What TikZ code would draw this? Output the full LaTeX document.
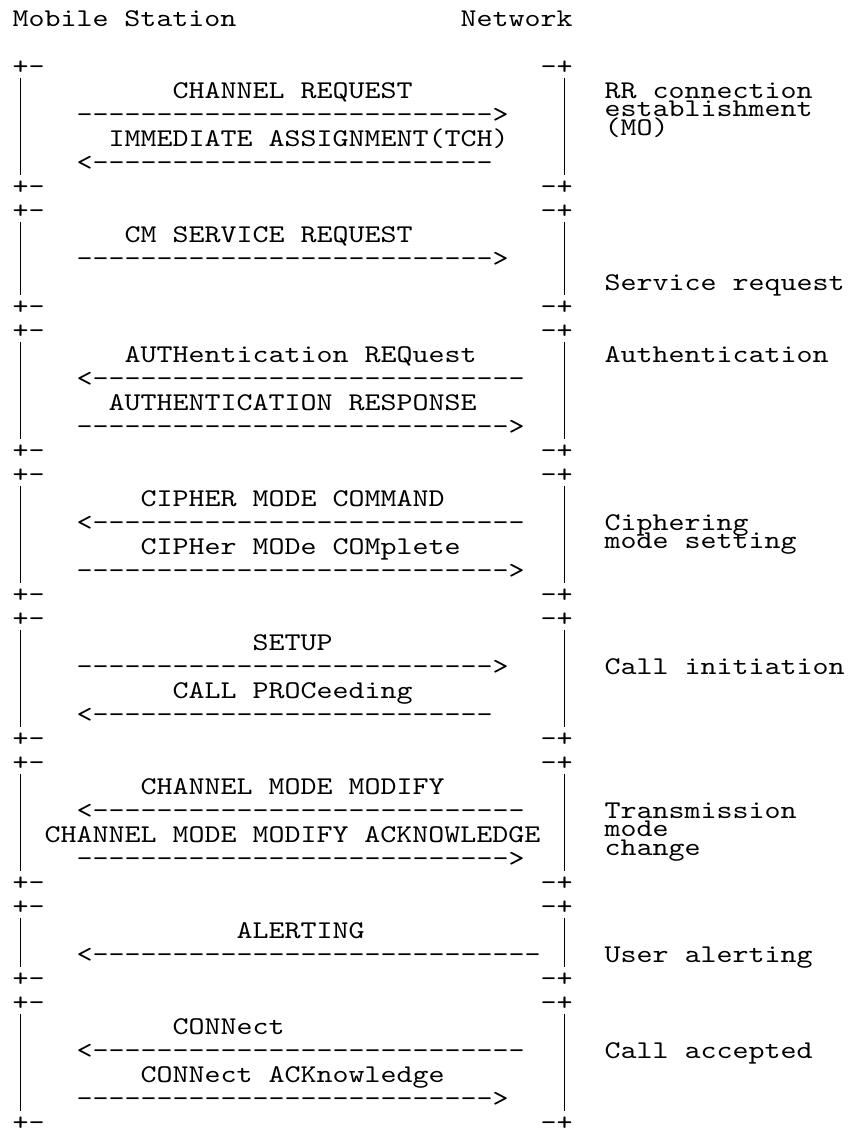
\documentclass[tikz,border=0pt]{standalone}
\usepackage{graphicx}
\font\asciittf=cmtt10 at 25.5pt
\newcommand{\asciifont}{\asciittf}
\newcommand{\mono}[1]{\scalebox{1.19515}[1]{#1}}
\begin{document}
\begin{tikzpicture}[x=16pt, y=-24pt,
    ascii/.style = {anchor=base west, inner sep=0pt, outer sep=0pt, font=\asciifont},
    phase/.style = {ascii},
    bar/.style = {line width=1.1pt}]

    \useasboundingbox (-0.78125,-1.08333) rectangle (52.34375,45.91667);

    % header
    \node[ascii] (ms) at (0,0) {\mono{Mobile Station}};
    \node[ascii] (nw) at (28,0) {\mono{Network}};

    % box frames, one per phase
    \foreach \t/\b in {2/7, 8/12, 13/18, 19/24, 25/30, 31/36, 37/40, 41/46} {
        \node[ascii] (tl\t) at (0,\t) {\mono{+-}};
        \node[ascii] (tr\t) at (33,\t) {\mono{-+}};
        \node[ascii] (bl\b) at (0,\b) {\mono{+-}};
        \node[ascii] (br\b) at (33,\b) {\mono{-+}};
        \coordinate (ltop\t) at (0.5,\t+0.1667);
        \coordinate (lbot\b) at (0.5,\b-0.79);
        \coordinate (rtop\t) at (34.5,\t+0.1667);
        \coordinate (rbot\b) at (34.5,\b-0.79);
        \draw[bar] (ltop\t) -- (lbot\b);
        \draw[bar] (rtop\t) -- (rbot\b);
    }

    % RR connection establishment
    \node[ascii] (chreq) at (10,3) {\mono{CHANNEL REQUEST}};
    \node[ascii] (a4) at (4,4) {\mono{{----------}{----------}{------}>}};
    \node[ascii] (imm) at (6,5) {\mono{IMMEDIATE ASSIGNMENT(TCH)}};
    \node[ascii] (a6) at (4,6) {\mono{<{----------}{----------}{-----}}};

    % service request
    \node[ascii] (cmsrv) at (7,9) {\mono{CM SERVICE REQUEST}};
    \node[ascii] (a10) at (4,10) {\mono{{----------}{----------}{------}>}};

    % authentication
    \node[ascii] (authreq) at (7,14) {\mono{AUTHentication REQuest}};
    \node[ascii] (a15) at (4,15) {\mono{<{----------}{----------}{-------}}};
    \node[ascii] (authrsp) at (6,16) {\mono{AUTHENTICATION RESPONSE}};
    \node[ascii] (a17) at (4,17) {\mono{{----------}{----------}{-------}>}};

    % ciphering
    \node[ascii] (ciphcmd) at (8,20) {\mono{CIPHER MODE COMMAND}};
    \node[ascii] (a21) at (4,21) {\mono{<{----------}{----------}{-------}}};
    \node[ascii] (ciphcmp) at (8,22) {\mono{CIPHer MODe COMplete}};
    \node[ascii] (a23) at (4,23) {\mono{{----------}{----------}{-------}>}};

    % call initiation
    \node[ascii] (setup) at (15,26) {\mono{SETUP}};
    \node[ascii] (a27) at (4,27) {\mono{{----------}{----------}{------}>}};
    \node[ascii] (proc) at (10,28) {\mono{CALL PROCeeding}};
    \node[ascii] (a29) at (4,29) {\mono{<{----------}{----------}{-----}}};

    % transmission mode change
    \node[ascii] (cmm) at (8,32) {\mono{CHANNEL MODE MODIFY}};
    \node[ascii] (a33) at (4,33) {\mono{<{----------}{----------}{-------}}};
    \node[ascii] (cmmack) at (2,34) {\mono{CHANNEL MODE MODIFY ACKNOWLEDGE}};
    \node[ascii] (a35) at (4,35) {\mono{{----------}{----------}{-------}>}};

    % alerting
    \node[ascii] (alert) at (14,38) {\mono{ALERTING}};
    \node[ascii] (a39) at (4,39) {\mono{<{----------}{----------}{--------}}};

    % connect
    \node[ascii] (conn) at (10,42) {\mono{CONNect}};
    \node[ascii] (a43) at (4,43) {\mono{<{----------}{----------}{-------}}};
    \node[ascii] (connack) at (8,44) {\mono{CONNect ACKnowledge}};
    \node[ascii] (a45) at (4,45) {\mono{{----------}{----------}{------}>}};

    % phase labels
    \node[phase] (rr1) at (37,3) {\mono{RR connection}};
    \node[phase] (rr2) at (37,3.77083) {\mono{establishment}};
    \node[phase] (rr3) at (37,4.54167) {\mono{(MO)}};
    \node[phase] (svc) at (37,11) {\mono{Service request}};
    \node[phase] (auth) at (37,14) {\mono{Authentication}};
    \node[phase] (ciph1) at (37,21) {\mono{Ciphering}};
    \node[phase] (ciph2) at (37,21.77083) {\mono{mode setting}};
    \node[phase] (callin) at (37,27) {\mono{Call initiation}};
    \node[phase] (tx1) at (37,33) {\mono{Transmission}};
    \node[phase] (tx2) at (37,33.77083) {\mono{mode}};
    \node[phase] (tx3) at (37,34.54167) {\mono{change}};
    \node[phase] (ua) at (37,39) {\mono{User alerting}};
    \node[phase] (acc) at (37,43) {\mono{Call accepted}};
\end{tikzpicture}
\end{document}
